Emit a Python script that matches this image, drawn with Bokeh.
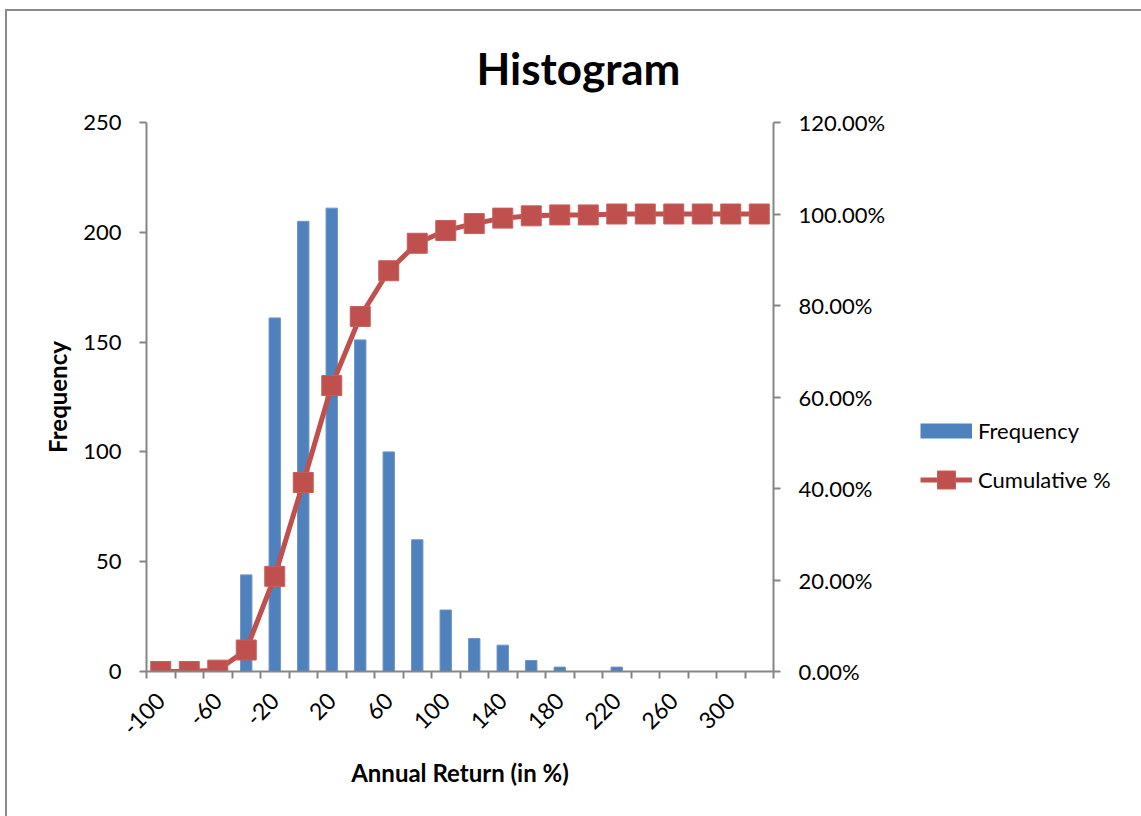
import math

from bokeh.embed import file_html
from bokeh.layouts import row
from bokeh.models import (ColumnDataSource, CustomJSTickFormatter, FixedTicker,
                          InlineStyleSheet, Legend, LegendItem, LinearAxis,
                          NumeralTickFormatter, Range1d)
from bokeh.plotting import figure
from bokeh.resources import INLINE

# Histogram bins (annual return, %), counts and cumulative share
bins = ["-100", "-80", "-60", "-40", "-20", "0", "20", "40", "60", "80", "100",
        "120", "140", "160", "180", "200", "220", "240", "260", "280", "300", "More"]
frequency = [0, 0, 3, 44, 161, 205, 211, 151, 100, 60, 28,
             15, 12, 5, 2, 0, 2, 0, 0, 0, 0, 0]
cumulative = [0.0, 0.0, 0.003, 0.047, 0.208, 0.413, 0.625, 0.776, 0.876, 0.936, 0.964,
              0.979, 0.991, 0.996, 0.998, 0.998, 1.0, 1.0, 1.0, 1.0, 1.0, 1.0]
freq_ticks = [0, 50, 100, 150, 200, 250]
pct_ticks = [0.0, 0.2, 0.4, 0.6, 0.8, 1.0, 1.2]

FONT = "Lato"
AXIS_GREY = "#868686"
BLUE = "#4F81BD"
RED = "#C0504D"

n = len(bins)
src = ColumnDataSource(dict(
    x=[i + 0.5 for i in range(n)],
    freq=frequency,
    cum=cumulative,
))

# ---- main chart -------------------------------------------------------------
p = figure(
    width=893, height=805,
    x_range=Range1d(0, n), y_range=Range1d(0, 250),
    output_backend="svg", toolbar_location=None,
    min_border_left=139, min_border_right=127,
    min_border_top=111, min_border_bottom=145,
)
p.extra_y_ranges = {"pct": Range1d(0, 1.2)}
p.background_fill_color = "white"
p.border_fill_color = "white"
p.outline_line_color = None
p.xgrid.visible = False
p.ygrid.visible = False

p.title.text = "Histogram"
p.title.text_font = FONT
p.title.text_font_size = "44px"
p.title.text_font_style = "bold"
p.title.text_color = "black"
p.title.align = "left"
p.title.offset = 330
p.title.vertical_align = "middle"
p.title.standoff = 55

# category axis: labels at every other bin centre, tick marks at bin edges
xa = p.xaxis[0]
xa.ticker = FixedTicker(ticks=[i + 0.5 for i in range(0, n, 2)],
                        minor_ticks=list(range(0, n + 1)))
xa.formatter = CustomJSTickFormatter(args=dict(labels=bins),
                                     code="return labels[Math.floor(tick)];")
xa.major_tick_out = 0
xa.major_tick_in = 0
xa.minor_tick_out = 7
xa.minor_tick_in = 0
xa.major_label_orientation = math.pi / 4
xa.axis_label = "Annual Return (in %)"

ya = p.yaxis[0]
ya.ticker = FixedTicker(ticks=freq_ticks, minor_ticks=[])
ya.major_tick_out = 7
ya.major_tick_in = 0
ya.axis_label = "Frequency"

ra = LinearAxis(y_range_name="pct",
                ticker=FixedTicker(ticks=pct_ticks, minor_ticks=[]),
                formatter=NumeralTickFormatter(format="0.00%"))
ra.major_tick_out = 7
ra.major_tick_in = 0
p.add_layout(ra, "right")

for ax in (xa, ya, ra):
    ax.axis_line_color = AXIS_GREY
    ax.axis_line_width = 2
    ax.major_tick_line_color = AXIS_GREY
    ax.major_tick_line_width = 2
    ax.minor_tick_line_color = AXIS_GREY if ax is xa else None
    ax.minor_tick_line_width = 2
    ax.major_label_text_font = FONT
    ax.major_label_text_font_size = "22px"
    ax.major_label_text_color = "black"
    ax.major_label_standoff = 18
    ax.axis_label_text_font = FONT
    ax.axis_label_text_font_size = "24px"
    ax.axis_label_text_font_style = "bold"
    ax.axis_label_text_color = "black"
xa.major_label_text_font_size = "23px"
xa.major_label_standoff = 18
xa.axis_label_standoff = 12
ya.axis_label_standoff = 8

p.vbar(x="x", top="freq", width=0.4, source=src,
       fill_color=BLUE, line_color="#6E96C8", line_width=1)
p.line(x="x", y="cum", source=src, y_range_name="pct",
       line_color=RED, line_width=5)
p.scatter(x="x", y="cum", source=src, y_range_name="pct",
          marker="square", size=20,
          fill_color=RED, line_color="#C4605D", line_width=1)

# ---- legend panel -------------------------------------------------------------
# The key renderers reuse the series but sit outside this panel's view,
# so only their legend swatches are seen.
lf = figure(
    width=241, height=805,
    x_range=Range1d(1000, 1001), y_range=Range1d(1000, 1001),
    output_backend="svg", toolbar_location=None,
    x_axis_location=None, y_axis_location=None,
    min_border=0,
)
lf.outline_line_color = None
lf.xgrid.visible = False
lf.ygrid.visible = False
lf.background_fill_color = "white"
lf.border_fill_color = "white"

key_freq = lf.line(x="x", y="freq", source=src,
                   line_color=BLUE, line_width=15, line_cap="butt")
key_cum_line = lf.line(x="x", y="cum", source=src, line_color=RED, line_width=5)
key_cum_mark = lf.scatter(x="x", y="cum", source=src, marker="square", size=20,
                          fill_color=RED, line_color="#C4605D", line_width=1)

legend = Legend(
    items=[LegendItem(label="Frequency", renderers=[key_freq]),
           LegendItem(label="Cumulative %", renderers=[key_cum_line, key_cum_mark])],
    location=(20, 169),
    orientation="vertical",
    glyph_width=52, glyph_height=45,
    label_standoff=6, spacing=4,
    padding=0, margin=0,
    border_line_color=None, background_fill_alpha=0,
    label_text_font=FONT, label_text_font_size="22px", label_text_color="black",
)
lf.add_layout(legend, "center")

layout = row(p, lf, margin=(9, 0, 0, 5))
layout.stylesheets = [InlineStyleSheet(
    css=":host { border-left: 2px solid #8a8a8a; border-top: 2px solid #8a8a8a; }")]

open("out.html", "w").write(file_html(layout, INLINE))
